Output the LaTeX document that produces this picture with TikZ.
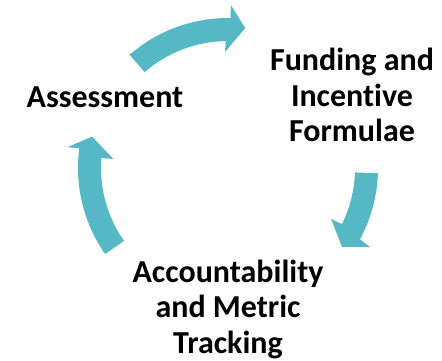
\documentclass[tikz,border=0pt]{standalone}
\usepackage{fontspec}
\setmainfont{Carlito}[Ligatures=NoCommon]
\usetikzlibrary{calc}
\definecolor{cyclefill}{RGB}{86,184,197}
\tikzset{
  cyclearrow/.style={fill=cyclefill, draw=none},
  label/.style={font=\fontsize{32}{35.5}\selectfont\bfseries, align=center, inner sep=0pt, anchor=base}
}
\begin{document}
\begin{tikzpicture}[x=1pt,y=1pt]
\useasboundingbox (0,0) rectangle (442,360);
\coordinate (c) at (228,192);
% top arrow
\fill[cyclearrow] ($(c)+(131:150)$) arc[start angle=131, end angle=89, radius=150]
  -- ($(c)+(89:163)$) -- ($(c)+(83:141)$) -- ($(c)+(91.5:116)$) -- ($(c)+(91:127)$)
  arc[start angle=91, end angle=131, radius=127] -- cycle;
% right arrow
\fill[cyclearrow] ($(c)+(-2:150)$) arc[start angle=-2, end angle=-28.4, radius=150]
  -- ($(c)+(-29.1:162.5)$) -- ($(c)+(-34.7:138.7)$) -- ($(c)+(-26.3:115)$) -- ($(c)+(-26.2:127)$)
  arc[start angle=-26.2, end angle=-2, radius=127] -- cycle;
% left arrow
\fill[cyclearrow] ($(c)+(215:150)$) arc[start angle=215, end angle=172.5, radius=150]
  -- ($(c)+(172.6:162)$) -- ($(c)+(167:139.5)$) -- ($(c)+(175.5:115)$) -- ($(c)+(175.5:127)$)
  arc[start angle=175.5, end angle=215, radius=127] -- cycle;
\node[label] (assess) at (105,253) {Assessment};
\node[label] (fund) at (352,218.3) {Funding and\\Incentive\\Formulae};
\node[label] (acct) at (228,7) {Accountability\\and Metric\\Tracking};
\end{tikzpicture}
\end{document}
